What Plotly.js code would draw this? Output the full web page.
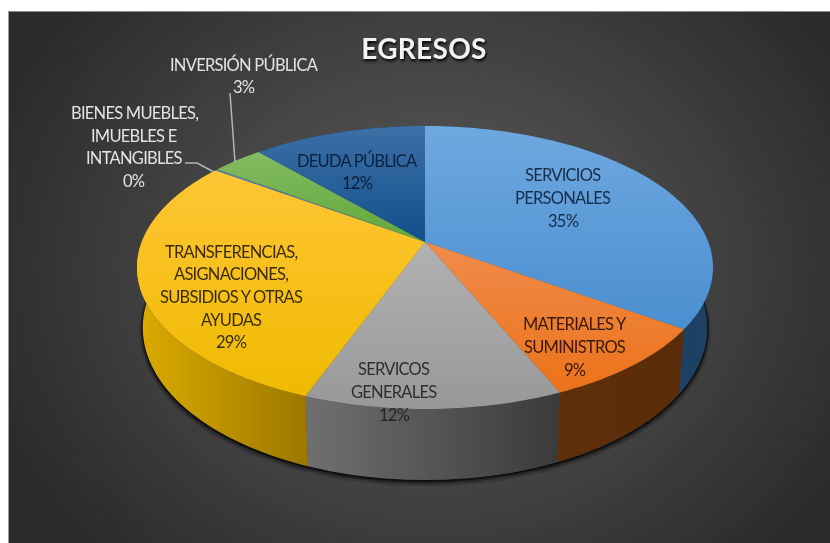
<!DOCTYPE html>
<html><head><meta charset="utf-8">
<script src="https://cdn.plot.ly/plotly-3.0.1.min.js"></script>
<style>
html,body{margin:0;padding:0;background:#fff;width:830px;height:543px;overflow:hidden}
#card{position:absolute;left:8px;top:11px;width:822px;height:532px;box-sizing:border-box;border-top:1px solid #8a8a8a;border-left:1px solid #9a9a9a;
background:radial-gradient(ellipse 470px 400px at 425px 255px,#5a5a5a 0%,#4c4c4c 35%,#3c3c3c 68%,#2b2b2b 100%)}
#chart{position:absolute;left:0;top:0;width:830px;height:543px;filter:blur(0.55px)}
.gtitle{letter-spacing:0.3px}
.annotation-text{letter-spacing:-0.75px}
</style></head><body>
<div id="card"></div><div id="chart"></div>
<script>
// Chart data
const categories = ["SERVICIOS PERSONALES","MATERIALES Y SUMINISTROS","SERVICOS GENERALES","TRANSFERENCIAS, ASIGNACIONES, SUBSIDIOS Y OTRAS AYUDAS","BIENES MUEBLES, IMUEBLES E INTANGIBLES","INVERSIÓN PÚBLICA","DEUDA PÚBLICA"];
const values = [34.7, 8.8, 12.2, 29.1, 0.2, 3.4, 11.6];
const percentLabels = ["35%","9%","12%","29%","0%","3%","12%"];
const labelLines = [
  ["SERVICIOS","PERSONALES"],
  ["MATERIALES Y","SUMINISTROS"],
  ["SERVICOS","GENERALES"],
  ["TRANSFERENCIAS,","ASIGNACIONES,","SUBSIDIOS Y OTRAS","AYUDAS"],
  ["BIENES MUEBLES,","IMUEBLES E","INTANGIBLES"],
  ["INVERSIÓN PÚBLICA"],
  ["DEUDA PÚBLICA"]
];
// Styles
const topStops = [["#4a8fd0","#6fa8e0"],["#ec7219","#f08c4c"],["#989898","#b2b2b2"],["#efba00","#ffc636"],["#5f7fa8","#5f7fa8"],["#62a83a","#83bb62"],["#134f8c","#3c70a6"]];
const wallStops = [["#1c3c5a","#1e4264"],["#5e2f0a","#5a2c08"],["#707070","#3a3a3a"],["#dcab00","#9c7800"],["#333","#333"],["#4a7a2c","#4a7a2c"],["#123a60","#123a60"]];
const labelPos = [[563,198],[575,347],[394,392],[231,297],[134,147],[244,76],[357,172]];
const labelColors = ["rgba(10,25,45,.85)","rgba(30,12,0,.88)","rgba(25,25,25,.85)","rgba(35,25,0,.9)","#e4e4e4","#e4e4e4","rgba(5,20,45,.85)"];
const lineGap = 22.6;

// Projection of the tilted disc
const cx=425, cy=242, S=283.3, A=136.9, K=0.18;
function proj(deg){const t=deg*Math.PI/180,u=Math.sin(t),v=Math.cos(t),w=1+K*v;return [S*u/w,-A*v/w];}
const topPt=d=>{const p=proj(d);return [cx+p[0],cy+p[1]];};
const lowPt=d=>{const p=proj(d);return [cx+p[0]*0.98,cy+p[1]*1.076+58.3];};
function arc(fn,a,b){const n=Math.max(2,Math.ceil(Math.abs(b-a)/1.5)),o=[];for(let i=0;i<=n;i++)o.push(fn(a+(b-a)*i/n));return o;}
const total=values.reduce((s,v)=>s+v,0);
let acc=0;const ranges=values.map(v=>{const r=[acc/total*360,(acc+v)/total*360];acc+=v;return r;});

const traces=[];
function poly(pts,stops,type){traces.push({type:"scatter",mode:"none",x:pts.map(p=>p[0]),y:pts.map(p=>p[1]),fill:"toself",
  fillgradient:{type:type,colorscale:[[0,stops[0]],[1,stops[1]]]},hoverinfo:"skip",showlegend:false});}
// contact shadow under the base
[[7,.18,3],[4,.32,2],[2,.6,1]].forEach(s=>{const a=arc(lowPt,62,290);
  traces.push({type:"scatter",mode:"lines",x:a.map(p=>p[0]),y:a.map(p=>p[1]+s[2]),line:{color:"rgba(0,0,0,"+s[1]+")",width:s[0]},hoverinfo:"skip",showlegend:false});});
// side walls
ranges.forEach((r,i)=>{poly(arc(topPt,r[0],r[1]).concat(arc(lowPt,r[1],r[0])),wallStops[i],"horizontal");});
// top faces
ranges.forEach((r,i)=>{poly([[cx,cy]].concat(arc(topPt,r[0],r[1])),topStops[i],"vertical");});
// leader lines
traces.push({type:"scatter",mode:"lines",x:[230,235],y:[93,162],line:{color:"#b4b4b4",width:1.5},hoverinfo:"skip",showlegend:false});
traces.push({type:"scatter",mode:"lines",x:[185,197,214],y:[163,163,172],line:{color:"#b4b4b4",width:1.5},hoverinfo:"skip",showlegend:false});

const annotations=[];
categories.forEach((c,i)=>{
  const lines=labelLines[i].concat(percentLabels[i]);
  lines.forEach((t,j)=>annotations.push({xref:"x",yref:"y",x:labelPos[i][0],y:labelPos[i][1]+(j-(lines.length-1)/2)*lineGap,
    text:t,showarrow:false,align:"center",xanchor:"center",yanchor:"middle",
    font:{family:"Lato, 'Open Sans', sans-serif",size:16.5,color:labelColors[i]}}));
});

Plotly.newPlot("chart",traces,{
  width:830,height:543,margin:{l:0,r:0,t:0,b:0},paper_bgcolor:"rgba(0,0,0,0)",plot_bgcolor:"rgba(0,0,0,0)",showlegend:false,
  title:{text:"EGRESOS",x:424/830,xanchor:"center",y:1-49/543,yanchor:"middle",font:{family:"Lato, 'Open Sans', sans-serif",size:28,weight:700,color:"#f2f2f2",shadow:"1px 2px 3px #000"}},
  xaxis:{range:[0,830],visible:false,fixedrange:true},
  yaxis:{range:[543,0],visible:false,fixedrange:true},
  annotations:annotations
},{displayModeBar:false,staticPlot:true});
</script></body></html>
